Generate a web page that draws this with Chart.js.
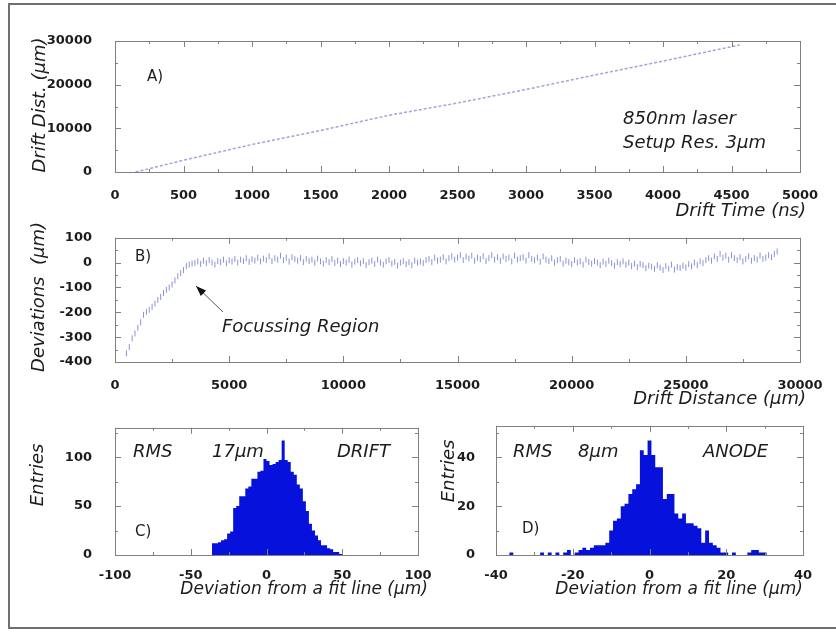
<!DOCTYPE html>
<html>
<head>
<meta charset="utf-8">
<script src="https://cdn.jsdelivr.net/npm/chart.js@4.4.0/dist/chart.umd.min.js"></script>
<style>
  body { margin: 0; background: #fff; }
  #fig { position: relative; width: 836px; height: 633px; overflow: hidden; }
  #frame { position: absolute; left: 8px; top: 3px; width: 840px; height: 622px; border: 2px solid #707070; border-right: none; }
  canvas { position: absolute; }
</style>
</head>
<body>
<div id="fig">
  <div id="frame"></div>
  <canvas id="chartA" width="836" height="225" style="left:0;top:0"></canvas>
  <canvas id="chartB" width="836" height="195" style="left:0;top:215px"></canvas>
  <canvas id="chartC" width="440" height="228" style="left:0;top:405px"></canvas>
  <canvas id="chartD" width="426" height="228" style="left:410px;top:405px"></canvas>
</div>
<script>
// A) drift distance vs drift time
const driftTime = [150, 500, 1000, 1500, 2000, 2500, 3000, 3500, 4000, 4500, 4560];
const driftDist = [0, 2700, 6300, 9500, 13000, 15800, 18900, 22200, 25400, 28700, 29100];
const timeTicks = [0, 500, 1000, 1500, 2000, 2500, 3000, 3500, 4000, 4500, 5000];
const timeMinor = [250, 750, 1250, 1750, 2250, 2750, 3250, 3750, 4250, 4750];
const distTicks = [0, 10000, 20000, 30000];
const distMinor = [5000, 15000, 25000];

// B) deviations along the drift distance (one value every 125 um from 500 um)
const devStart = 500;
const devStep = 125;
const deviations = [
  -365, -340, -305, -285, -262, -240, -210, -198, -190, -178,
  -165, -150, -138, -122, -110, -100, -88, -72, -55, -42,
  -30, -14, -8, -4, -1,
  5, -5, 8, -2, 10, 0, -8, 6, 2, 12,
  -3, 9, 4, 15, 0, 12, 6, 18, 3, 14,
  8, 20, 5, 16, 10, 25, 6, 18, 12, 28,
  10, 20, 4, 22, 14, 8, 18, 2, 15, 6,
  12, 0, 16, 5, -4, 10, 2, 14, -2, 8,
  -6, 6, 0, 12, -8, 4, 10, -3, 6, -10,
  2, 8, -5, 12, 0, -8, 5, 10, -4, 3,
  -12, 0, 6, -6, 2, -10, 8, 0, 4, -2,
  10, 15, 2, 20, 8, 12, 22, 5, 18, 25,
  12, 20, 30, 10, 24, 16, 28, 8, 20, 14,
  26, 6, 18, 30, 12, 22, 8, 25, 15, 20,
  5, 28, 12, 18, 22, 8, 30, 15, 10, 20,
  4, 25, 12, 6, 18, 0, 10, 15, -4, 8,
  2, -6, 10, 0, 5, -8, 12, 3, -4, 6,
  0, -10, 4, -5, 8, -2, -12, 2, -6, 5,
  -8, 0, -14, -4, -18, -6, -10, -22, -12, -16,
  -25, -10, -20, -30, -14, -24, -8, -28, -18, -22,
  -12, -20, -6, -15, 0, -10, 5, -2, 10, 18,
  8, 25, 15, 35, 20, 28, 12, 30, 18, 10,
  22, 5, 15, 25, 8, 18, 12, 28, 15, 20,
  30, 22, 35, 45
];
const distanceTicks = [0, 5000, 10000, 15000, 20000, 25000, 30000];
const distanceMinor = [2500, 7500, 12500, 17500, 22500, 27500];
const devTicks = [-400, -300, -200, -100, 0, 100];
const devMinor = [-350, -250, -150, -50, 50];

// C) drift histogram, 2 um bins from -36 um
const driftBinStart = -36;
const driftBinWidth = 2;
const driftCounts = [
  12, 12, 13, 15, 16, 22, 24, 48, 50, 60,
  60, 68, 70, 78, 78, 85, 86, 98, 96, 92,
  93, 95, 97, 117, 97, 95, 85, 82, 72, 68,
  55, 45, 32, 25, 20, 15, 10, 10, 7, 6,
  3, 3, 1
];
const cTicksX = [-100, -50, 0, 50, 100];
const cMinorX = [-75, -25, 25, 75];
const cTicksY = [0, 50, 100];
const cMinorY = [25, 75, 125];

// D) anode histogram, 1 um bins from -39.5 um
const anodeBinStart = -39.5;
const anodeBinWidth = 1;
const anodeCounts = [
  0, 0, 0, 1, 0, 0, 0, 0, 0, 0,
  0, 1, 0, 1, 0, 1, 0, 1, 2, 0,
  1, 2, 3, 2, 3, 4, 4, 4, 5, 10,
  14, 15, 20, 21, 25, 27, 29, 43, 41, 47,
  41, 36, 36, 23, 25, 25, 17, 15, 17, 13,
  13, 12, 11, 5, 10, 5, 4, 3, 1, 1,
  0, 1, 0, 0, 0, 1, 2, 2, 1, 1,
  0, 0, 0, 0, 0, 0, 0, 0, 0
];
const dTicksX = [-40, -20, 0, 20, 40];
const dMinorX = [-30, -10, 10, 30];
const dTicksY = [0, 20, 40];
const dMinorY = [10, 30, 50];

Chart.defaults.font.family = "'DejaVu Sans'";
Chart.defaults.font.size = 13;
Chart.defaults.font.weight = 'bold';
Chart.defaults.color = '#1c1c1c';

const IT18 = "italic 18px 'DejaVu Sans'";
const IT17 = "italic 17px 'DejaVu Sans'";
const UP15 = "15px 'DejaVu Sans'";
const HIST_BLUE = '#0612dc';

function histPoints(start, w, counts) {
  const pts = [{ x: start, y: 0 }];
  counts.forEach((c, i) => {
    pts.push({ x: start + i * w, y: c }, { x: start + (i + 1) * w, y: c });
  });
  pts.push({ x: start + counts.length * w, y: 0 });
  return pts;
}

function axis(min, max, ticks, size, pad) {
  return {
    type: 'linear', min, max,
    grid: { display: false },
    border: { display: false },
    ticks: { padding: pad, maxRotation: 0, autoSkip: false, callback: v => v },
    afterBuildTicks: s => { s.ticks = ticks.map(v => ({ value: v })); },
    afterFit: s => { if (s.isHorizontal()) s.height = size; else s.width = size; }
  };
}

// frame, inward tick marks and free text for one panel
function decor(cfg) {
  return {
    id: 'decor',
    afterDatasetsDraw(chart) {
      const { ctx, chartArea: a, scales: { x, y } } = chart;
      ctx.save();
      ctx.strokeStyle = '#808080';
      ctx.lineWidth = 1;
      ctx.strokeRect(Math.round(a.left) + 0.5, Math.round(a.top) + 0.5, Math.round(a.width), Math.round(a.height));
      ctx.beginPath();
      const xm = (vals, len) => vals.forEach(v => {
        const px = Math.round(x.getPixelForValue(v)) + 0.5;
        ctx.moveTo(px, a.bottom); ctx.lineTo(px, a.bottom - len);
        ctx.moveTo(px, a.top); ctx.lineTo(px, a.top + len);
      });
      const ym = (vals, len) => vals.forEach(v => {
        const py = Math.round(y.getPixelForValue(v)) + 0.5;
        ctx.moveTo(a.left, py); ctx.lineTo(a.left + len, py);
        ctx.moveTo(a.right, py); ctx.lineTo(a.right - len, py);
      });
      xm(cfg.xMajor, 6); xm(cfg.xMinor, 3);
      ym(cfg.yMajor, 6); ym(cfg.yMinor, 3);
      ctx.stroke();
      ctx.restore();
    },
    afterDraw(chart) {
      const ctx = chart.ctx;
      (cfg.notes || []).forEach(n => {
        ctx.save();
        ctx.font = n.font || IT18;
        ctx.fillStyle = '#1c1c1c';
        ctx.textAlign = n.align || 'left';
        ctx.textBaseline = 'middle';
        ctx.translate(n.x, n.y);
        if (n.rot) ctx.rotate(-Math.PI / 2);
        ctx.fillText(n.t, 0, 0);
        ctx.restore();
      });
      if (cfg.arrow) {
        const [x0, y0] = cfg.arrow.from, [x1, y1] = cfg.arrow.to;
        const ang = Math.atan2(y1 - y0, x1 - x0);
        ctx.save();
        ctx.strokeStyle = '#555'; ctx.fillStyle = '#111'; ctx.lineWidth = 1;
        ctx.beginPath(); ctx.moveTo(x0, y0); ctx.lineTo(x1, y1); ctx.stroke();
        ctx.beginPath();
        ctx.moveTo(x1, y1);
        ctx.lineTo(x1 - 11 * Math.cos(ang - 0.35), y1 - 11 * Math.sin(ang - 0.35));
        ctx.lineTo(x1 - 11 * Math.cos(ang + 0.35), y1 - 11 * Math.sin(ang + 0.35));
        ctx.closePath(); ctx.fill();
        ctx.restore();
      }
    }
  };
}

function baseOptions(padTop, padRight, scales) {
  return {
    responsive: false,
    animation: false,
    devicePixelRatio: 1,
    layout: { padding: { left: 0, top: padTop, right: padRight, bottom: 0 } },
    plugins: { legend: { display: false }, tooltip: { enabled: false } },
    events: [],
    scales
  };
}

// A
new Chart(document.getElementById('chartA'), {
  type: 'scatter',
  data: {
    datasets: [{
      data: driftTime.map((t, i) => ({ x: t, y: driftDist[i] })),
      showLine: true,
      borderColor: '#a0a5dc',
      borderWidth: 1.5,
      borderDash: [3, 2],
      pointRadius: 0
    }]
  },
  options: baseOptions(41, 36, {
    x: axis(0, 5000, timeTicks, 53, 8),
    y: axis(0, 30000, distTicks, 115, 15)
  }),
  plugins: [decor({
    xMajor: timeTicks, xMinor: timeMinor, yMajor: distTicks, yMinor: distMinor,
    notes: [
      { t: 'Drift Dist. (µm)', x: 40, y: 105, rot: true, align: 'center' },
      { t: 'Drift Time (ns)', x: 806, y: 211, align: 'right' },
      { t: 'A)', x: 147, y: 77, font: UP15 },
      { t: '850nm laser', x: 623, y: 119 },
      { t: 'Setup Res. 3µm', x: 623, y: 143 }
    ]
  })]
});

// B
new Chart(document.getElementById('chartB'), {
  type: 'scatter',
  data: {
    datasets: [{
      data: deviations.map((d, i) => ({ x: devStart + i * devStep, y: d })),
      pointStyle: 'line',
      pointRotation: 90,
      pointRadius: 3,
      pointBorderWidth: 1,
      pointBorderColor: '#8d92d8',
      pointBackgroundColor: '#8d92d8'
    }]
  },
  options: baseOptions(18, 36, {
    x: axis(0, 30000, distanceTicks, 48, 8),
    y: axis(-400, 100, devTicks, 115, 15)
  }),
  plugins: [decor({
    xMajor: distanceTicks, xMinor: distanceMinor, yMajor: devTicks, yMinor: devMinor,
    notes: [
      { t: 'Deviations  (µm)', x: 39, y: 82, rot: true, align: 'center' },
      { t: 'Drift Distance (µm)', x: 806, y: 184, align: 'right' },
      { t: 'B)', x: 135, y: 42, font: UP15 },
      { t: 'Focussing Region', x: 222, y: 112 }
    ],
    arrow: { from: [223, 97], to: [196, 71] }
  })]
});

// C
new Chart(document.getElementById('chartC'), {
  type: 'scatter',
  data: {
    datasets: [{
      data: histPoints(driftBinStart, driftBinWidth, driftCounts),
      showLine: true,
      fill: 'origin',
      backgroundColor: HIST_BLUE,
      borderWidth: 0,
      pointRadius: 0
    }]
  },
  options: baseOptions(20, 22, {
    x: axis(-100, 100, cTicksX, 78, 5),
    y: axis(0, 130, cTicksY, 115, 15)
  }),
  plugins: [decor({
    xMajor: cTicksX, xMinor: cMinorX, yMajor: cTicksY, yMinor: cMinorY,
    notes: [
      { t: 'Entries', x: 38, y: 70, rot: true, align: 'center' },
      { t: 'RMS', x: 133, y: 47 },
      { t: '17µm', x: 212, y: 47 },
      { t: 'DRIFT', x: 337, y: 47 },
      { t: 'C)', x: 135, y: 127, font: UP15 },
      { t: 'Deviation from a fit line (µm)', x: 428, y: 185, align: 'right', font: IT17 }
    ]
  })]
});

// D
new Chart(document.getElementById('chartD'), {
  type: 'scatter',
  data: {
    datasets: [{
      data: histPoints(anodeBinStart, anodeBinWidth, anodeCounts),
      showLine: true,
      fill: 'origin',
      backgroundColor: HIST_BLUE,
      borderWidth: 0,
      pointRadius: 0
    }]
  },
  options: baseOptions(18, 33, {
    x: axis(-40, 40, dTicksX, 78, 5),
    y: axis(0, 53, dTicksY, 86, 13)
  }),
  plugins: [decor({
    xMajor: dTicksX, xMinor: dMinorX, yMajor: dTicksY, yMinor: dMinorY,
    notes: [
      { t: 'Entries', x: 39, y: 66, rot: true, align: 'center' },
      { t: 'RMS', x: 103, y: 47 },
      { t: '8µm', x: 168, y: 47 },
      { t: 'ANODE', x: 293, y: 47 },
      { t: 'D)', x: 112, y: 124, font: UP15 },
      { t: 'Deviation from a fit line (µm)', x: 393, y: 185, align: 'right', font: IT17 }
    ]
  })]
});
</script>
</body>
</html>
